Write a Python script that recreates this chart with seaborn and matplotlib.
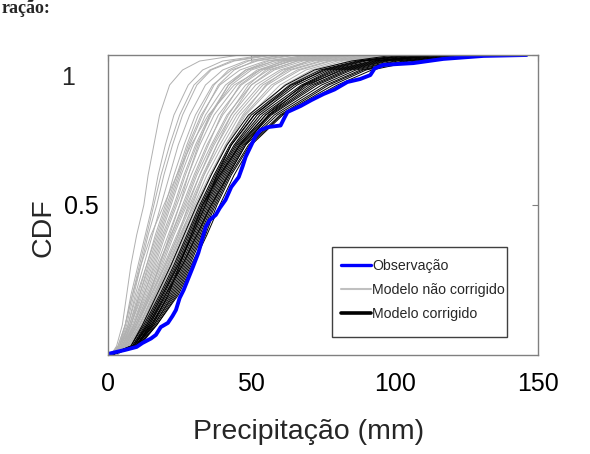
import numpy as np
import pandas as pd
import matplotlib
matplotlib.use("Agg")
import matplotlib.pyplot as plt
import seaborn as sns
from matplotlib.lines import Line2D
from matplotlib.patches import Rectangle

# CDF levels at which the model curves are read (quantiles)
levels = [0, 0.03, 0.1, 0.2, 0.3, 0.4, 0.5, 0.6, 0.7, 0.8, 0.9, 0.95, 0.98, 1.0]

# Uncorrected model curves (precipitation, mm, at each CDF level)
gray_curves = [
    [1, 3, 5, 6.5, 8, 10, 12.5, 14, 16, 18, 21.5, 26, 32, 46],
    [1, 3.5, 6, 8, 10.5, 13, 15.5, 17.5, 20, 23, 28, 33, 40, 55],
    [1, 4, 6.5, 9, 11.5, 14, 17, 19.5, 22.5, 26, 31, 36, 44, 58],
    [1.5, 4, 7, 9.5, 12.5, 15.5, 18.5, 21.5, 24.5, 28.5, 34, 40, 48, 62],
    [1.5, 4.5, 7, 10, 13.5, 16.5, 20, 23, 26.5, 30.5, 36.5, 43, 52, 66],
    [1.5, 4.5, 7.5, 11, 14, 17.5, 21, 24.5, 28, 32.5, 39, 46, 55, 70],
    [1.5, 5, 8, 11.5, 15, 18.5, 22, 25.5, 29.5, 34, 41, 48, 58, 72],
    [2, 5, 8, 12, 15.5, 19, 23, 26.5, 30.5, 35.5, 43, 50, 60, 75],
    [2, 5, 8.5, 12.5, 16.5, 20, 24, 28, 32, 37, 45, 52, 62, 78],
    [2, 5.5, 9, 13, 17, 21, 25, 29, 33.5, 38.5, 46.5, 54, 64, 80],
    [2, 5.5, 9, 13.5, 17.5, 22, 26, 30, 34.5, 40, 48, 56, 66, 82],
    [2, 5.5, 9.5, 14, 18.5, 22.5, 27, 31, 36, 41.5, 50, 58, 68, 85],
    [2.5, 6, 10, 14.5, 19, 23, 27.5, 32, 37, 43, 51.5, 60, 70, 88],
    [2.5, 6, 10, 15, 19.5, 24, 28.5, 33, 38, 44, 53, 61, 72, 90],
    [2.5, 6, 10.5, 15, 20, 24.5, 29, 33.5, 39, 45, 54, 63, 74, 92],
    [2.5, 6.5, 11, 16, 20.5, 25, 30, 34.5, 40, 46, 55.5, 64, 75, 94],
    [2.5, 6.5, 11, 16, 21, 25.5, 30.5, 35.5, 41, 47.5, 57, 66, 77, 96],
    [3, 7, 11.5, 16.5, 21.5, 26, 31, 36, 41.5, 48, 58, 67, 78, 98],
    [3, 7, 12, 17, 22, 27, 32, 37, 43, 49.5, 60, 69, 80, 100],
    [3, 7, 12, 17.5, 22.5, 27.5, 32.5, 38, 44, 51, 61.5, 71, 82, 102],
    [3, 7.5, 12.5, 18, 23, 28, 33, 38.5, 44.5, 52, 63, 73, 84, 104],
    [3, 7.5, 13, 18.5, 24, 29, 34, 39.5, 46, 53, 64.5, 75, 86, 106],
    [1, 4, 6, 8.5, 11.5, 15, 19.5, 24, 29, 35, 44, 53, 64, 82],
    [2, 6, 10, 14.5, 18, 21.5, 25, 28, 31.5, 35.5, 42, 49, 58, 74],
    [1, 3.5, 6, 8.5, 11, 13.5, 16, 18.5, 21.5, 25, 30, 35.5, 43, 56],
    [2.5, 7, 12, 16.5, 21, 25.5, 29.5, 33.5, 38, 43, 50, 57, 66, 84],
    [1.5, 4.5, 8, 11, 14.5, 18, 21.5, 25, 28.5, 33, 38.5, 44, 51, 64],
    [2, 5, 9, 12.5, 16, 19.5, 23.5, 27, 31, 36, 42, 48, 56, 70],
    [2, 6, 9.5, 14, 18, 22, 26.5, 30.5, 35, 39.5, 46, 53, 61, 76],
    [2.5, 6.5, 11, 15.5, 20, 24.5, 28, 32, 36.5, 42, 49, 55, 63, 80],
    [3, 7, 12.5, 17.5, 22, 26.5, 31.5, 36, 41, 47, 55, 62, 70, 86],
    [1.5, 4, 7.5, 10.5, 13.5, 17, 20.5, 24, 27.5, 31.5, 37, 42, 49, 60],
]

# Corrected model curves
black_curves = [
    [0.5, 8, 12, 17, 22, 26.5, 31, 36, 41.5, 49, 62, 72, 85, 100],
    [0.5, 8, 12.5, 18, 23, 27.5, 32, 37, 42.5, 50, 63.5, 74, 87, 103],
    [0.5, 8.5, 13, 18.5, 23.5, 28, 32.5, 37.5, 43, 51, 65, 75, 88, 105],
    [0.5, 8.5, 13.5, 19, 24, 28.5, 33, 38, 44, 52, 66, 77, 90, 108],
    [0.5, 9, 14, 19.5, 24.5, 29, 33.5, 38.5, 44.5, 53, 67.5, 78, 92, 110],
    [0.5, 9, 14, 20, 25, 29.5, 34, 39, 45, 54, 68.5, 80, 94, 112],
    [0.5, 9, 14.5, 20.5, 25.5, 30, 34.5, 39.5, 45.5, 55, 70, 81, 95, 113],
    [1, 9.5, 15, 21, 26, 30.5, 35, 40, 46, 56, 71, 83, 97, 115],
    [1, 9.5, 15, 21.5, 26.5, 31, 35.5, 40.5, 46.5, 56.5, 72, 84, 98, 116],
    [1, 10, 15.5, 22, 27, 31.5, 36, 41, 47, 57, 73, 85, 100, 118],
    [1, 10, 16, 22.5, 27.5, 32, 36.5, 41.5, 47.5, 58, 74.5, 86.5, 101, 119],
    [1, 10, 16, 23, 28, 32.5, 37, 42, 48, 59, 76, 88, 103, 120],
    [1, 10.5, 16.5, 23.5, 28.5, 33, 37.5, 42.5, 49, 60, 77, 89, 104, 122],
    [1, 10.5, 17, 24, 29, 34, 38, 43, 49.5, 60.5, 78.5, 90, 105, 123],
    [1, 11, 17, 24.5, 29.5, 34.5, 39, 44, 50, 61, 80, 92, 107, 125],
    [0.5, 9, 13.5, 19, 24.5, 29.5, 34, 38, 43, 51, 64, 76, 89, 106],
    [1, 9.5, 15.5, 21, 25, 29, 33, 39, 46, 55, 68, 79, 93, 111],
    [1, 10, 14.5, 20, 26, 31, 36, 42, 48, 56, 69, 82, 96, 114],
]

# Observed empirical CDF (precipitation mm, CDF)
obs_x = [0, 0, 6, 10, 12, 15, 16.7, 18.4, 20.9, 22.5, 23.7, 25, 26.4, 28, 29.6,
         31.5, 33, 34.1, 35.5, 37.6, 39, 41, 43, 45.6, 47, 48, 50, 51.5, 53.2,
         56, 60.2, 61.5, 62.6, 67.2, 71, 75.2, 79, 83.5, 88, 91.5, 93, 96,
         106.5, 117, 131, 146]
obs_cdf = [0, 0.007, 0.017, 0.027, 0.04, 0.055, 0.067, 0.093, 0.107, 0.13, 0.15,
           0.19, 0.217, 0.255, 0.293, 0.34, 0.39, 0.427, 0.45, 0.467, 0.49, 0.517,
           0.56, 0.593, 0.63, 0.66, 0.7, 0.73, 0.75, 0.76, 0.765, 0.79, 0.81,
           0.83, 0.85, 0.87, 0.885, 0.91, 0.92, 0.933, 0.955, 0.967, 0.973,
           0.987, 0.997, 1.0]

x_ticks = [0, 50, 100, 150]
x_ticklabels = ["0", "50", "100", "150"]
legend_labels = ["Observação", "Modelo não corrigido", "Modelo corrigido"]

def to_long(curves, name):
    rows = []
    for i, c in enumerate(curves):
        for x, y in zip(c, levels):
            rows.append({"curve": f"{name}{i}", "x": x, "cdf": y})
    return pd.DataFrame(rows)

df_gray = to_long(gray_curves, "g")
df_black = to_long(black_curves, "b")
df_obs = pd.DataFrame({"x": obs_x, "cdf": obs_cdf})

sns.set_theme(style="white")
plt.rcParams["font.family"] = ["Liberation Sans", "DejaVu Sans"]

fig = plt.figure(figsize=(5.9, 4.54), dpi=100)
ax = fig.add_axes([108 / 590, (454 - 355) / 454, 430 / 590, 300 / 454])

sns.lineplot(data=df_gray, x="x", y="cdf", units="curve", estimator=None,
             sort=False, color="#b0b0b0", linewidth=0.7, ax=ax, legend=False)
sns.lineplot(data=df_black, x="x", y="cdf", units="curve", estimator=None,
             sort=False, color="#000000", linewidth=0.7, ax=ax, legend=False)
sns.lineplot(data=df_obs, x="x", y="cdf", sort=False, color="#0000ff",
             linewidth=2.8, ax=ax, legend=False)

ax.set_xlim(0, 150)
ax.set_ylim(0, 1.0)
ax.set_xticks(x_ticks, x_ticklabels)
ax.set_yticks([0.5, 1.0], ["0.5", ""])
ax.tick_params(axis="both", direction="in", length=4, width=0.8, color="#808080",
               labelsize=18, labelcolor="black", top=True, right=True)
ax.tick_params(axis="x", pad=12)
ax.tick_params(axis="y", pad=7)
ax.annotate("1", xy=(0, 1), xycoords="axes fraction", xytext=(-40, -23),
            textcoords="offset pixels", ha="center", va="center", fontsize=18)
for s in ax.spines.values():
    s.set_color("#808080")
    s.set_linewidth(1.0)

ax.set_xlabel("Precipitação (mm)", fontsize=20.5)
ax.xaxis.set_label_coords(0.467, -0.213)
ax.set_ylabel("CDF", fontsize=20.5)
ax.yaxis.set_label_coords(-0.12, 0.423)

# legend
ax.add_patch(Rectangle((0.521, 0.06), 0.407, 0.30, transform=ax.transAxes,
                       facecolor="white", edgecolor="#404040", linewidth=1.0,
                       zorder=5))
handles = [Line2D([], [], color="#0000ff", lw=2.4),
           Line2D([], [], color="#c0c0c0", lw=1.5),
           Line2D([], [], color="#000000", lw=2.6)]
leg = ax.legend(handles, legend_labels, loc="upper left",
                bbox_to_anchor=(0.535, 0.33), frameon=False, fontsize=10.2,
                handlelength=2.1, handletextpad=0.1, labelspacing=0.7,
                borderpad=0.2, borderaxespad=0)
leg.set_zorder(6)

fig.text(0.003, 1 - 13 / 454, "ração:", fontsize=13, fontweight="bold",
         family=["Liberation Serif", "DejaVu Serif"], va="baseline", ha="left")

fig.savefig("out.png", dpi=100, facecolor="white")
